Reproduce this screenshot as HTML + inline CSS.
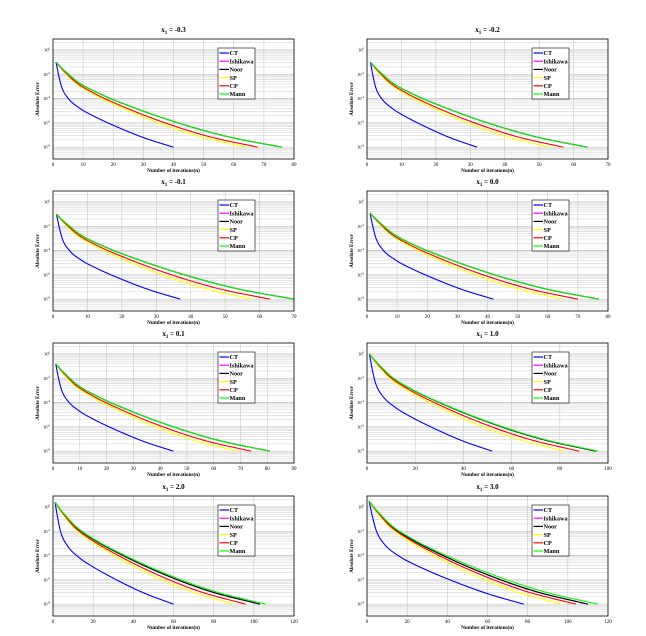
<!DOCTYPE html>
<html><head><meta charset="utf-8"><style>
html,body{margin:0;padding:0;background:#fff;}
svg{display:block;font-family:"Liberation Serif",serif;}
</style></head><body>
<svg id="fig" width="646" height="636" viewBox="0 0 646 636"></svg>
<script>
const NS="http://www.w3.org/2000/svg";
// ---- data ----
const titles=["-0.3","-0.2","-0.1","0.0","0.1","1.0","2.0","3.0"];
const xMaxes=[80,70,70,80,90,100,120,120];
const seriesNames=["CT","Ishikawa","Noor","SP","CP","Mann"];
const seriesColors=["#0000ff","#ff00ff","#000000","#ffff00","#ff0000","#00ff00"];
// final iteration for each series (CT, Ishikawa, Noor, SP, CP, Mann)
const ends1=[40,76,76,64,68,76];
const ends2=[32,64,64,53,57,64];
const ends3=[37,70,70,58,63,70];
const ends4=[42,77,77,65,70,77];
const ends5=[45,81,81,69,74,81];
const ends6=[52,95,95,82,88,96];
const ends7=[60,103,103,90,96,106];
const ends8=[78,110,110,97,104,115];
const allEnds=[ends1,ends2,ends3,ends4,ends5,ends6,ends7,ends8];
// starting error (in tick units below 10^0) at n=1
const startVals=[0.5,0.5,0.5,0.45,0.4,0.0,-0.2,-0.25];
const endVal=4;
// decay profile: fraction of progress vs. fraction descended
const profFrac=[0,0.025,0.05,0.1,0.2,0.3,0.5,0.75,1];
const ctProfile=[0,0.17,0.3,0.42,0.54,0.62,0.75,0.89,1];
const otherProfile=[0,0.07,0.13,0.24,0.38,0.49,0.68,0.87,1];
const yTickLabels=["0","-2","-4","-6","-8"];
// ---- layout ----
const colLeft=[53,367], rowTop=[39,191,343,496], W=241, H=120;
const svg=document.getElementById('fig');
function el(t,a,p){const e=document.createElementNS(NS,t);for(const k in a)e.setAttribute(k,a[k]);(p||svg).appendChild(e);return e;}
function monotone(xs,ys){const n=xs.length,d=[],m=[];
 for(let i=0;i<n-1;i++)d.push((ys[i+1]-ys[i])/(xs[i+1]-xs[i]));
 m[0]=d[0];m[n-1]=d[n-2];
 for(let i=1;i<n-1;i++){m[i]=(d[i-1]*d[i]<=0)?0:(d[i-1]+d[i])/2;}
 for(let i=0;i<n-1;i++){if(d[i]===0){m[i]=0;m[i+1]=0;continue;}
  const a=m[i]/d[i],b=m[i+1]/d[i],s=a*a+b*b;if(s>9){const t=3/Math.sqrt(s);m[i]=t*a*d[i];m[i+1]=t*b*d[i];}}
 return x=>{let i=0;while(i<n-2&&x>xs[i+1])i++;const h=xs[i+1]-xs[i],t=(x-xs[i])/h,t2=t*t,t3=t2*t;
  return (2*t3-3*t2+1)*ys[i]+(t3-2*t2+t)*h*m[i]+(-2*t3+3*t2)*ys[i+1]+(t3-t2)*h*m[i+1];};}
const ctFn=monotone(profFrac,ctProfile), otherFn=monotone(profFrac,otherProfile);
for(let p=0;p<8;p++){
 const L=colLeft[p%2],T=rowTop[Math.floor(p/2)],xMax=xMaxes[p];
 const g=el('g',{});
 
 
 const xs=v=>L+v/xMax*W;
 const ys=v=>T+11+v*24.3;
 el('rect',{x:L,y:T,width:W,height:H,fill:'#fff'},g);
 for(let u=-1;u<5;u++){for(let k=2;k<10;k++){const y=ys(u+1-Math.log10(k));if(y>T&&y<T+H)el('line',{x1:L,x2:L+W,y1:y,y2:y,stroke:'#d8d8d8','stroke-width':0.6},g);}}
 const step=xMax<=90?10:20;
 for(let v=0;v<=xMax;v+=step){const x=xs(v);
  el('line',{x1:x,x2:x,y1:T,y2:T+H,stroke:'#c8c8c8','stroke-width':0.6},g);
  const t=el('text',{x:x,y:T+H+7,'font-size':5,'text-anchor':'middle',fill:'#000'},g);t.textContent=v;
  }
 for(let i=0;i<yTickLabels.length;i++){const y=ys(i*1);
  el('line',{x1:L,x2:L+W,y1:y,y2:y,stroke:'#c0c0c0','stroke-width':0.7},g);
  const t=el('text',{x:L-3,y:y+1.5,'font-size':4.5,'text-anchor':'end'},g);
  t.innerHTML='10<tspan dy="-2" font-size="3">'+yTickLabels[i]+'</tspan>';
  }
 const ends=allEnds[p];
 for(let s=0;s<6;s++){const N=ends[s],fn=s===0?ctFn:otherFn,v0=startVals[p];
  const pts=[];
  for(let j=0;j<=200;j++){const f=Math.pow(j/200,1.6);pts.push(xs(1+f*(N-1)).toFixed(2)+","+ys(v0+fn(f)*(endVal-v0)).toFixed(2));}
  const path=el('polyline',{points:pts.join(" "),fill:'none',stroke:seriesColors[s],'stroke-width':1.1,'stroke-linejoin':'round'},g);
  
  }
 el('rect',{x:L,y:T,width:W,height:H,fill:'none',stroke:'#000','stroke-width':0.8},g);
 const tt=el('text',{x:L+W/2,y:T-7,'font-size':7,'font-weight':'bold','text-anchor':'middle'},g);
 tt.innerHTML='x<tspan dy="2" font-size="5">1</tspan><tspan dy="-2"> = '+titles[p]+'</tspan>';
 
 const xl=el('text',{x:L+W/2,y:T+H+13,'font-size':5.2,'font-weight':'bold','text-anchor':'middle'},g);
 xl.textContent='Number of iterations(n)';
 
 const yl=el('text',{x:0,y:0,'font-size':5.2,'font-weight':'bold','text-anchor':'middle',transform:'translate('+(L-14)+','+(T+H/2)+') rotate(-90)'},g);
 yl.textContent='Absolute Error';
 
 const lg=el('g',{},g);
 
 const lx=L+165,ly=T+9;
 el('rect',{x:lx,y:ly,width:37,height:51,fill:'#fff',stroke:'#000','stroke-width':0.6},lg);
 for(let s=0;s<6;s++){const y=ly+5+s*8.2;
  el('line',{x1:lx+1.5,x2:lx+11,y1:y,y2:y,stroke:seriesColors[s],'stroke-width':1.2},lg);
  const t=el('text',{x:lx+11.5,y:y+2.2,'font-size':6.2,'font-weight':'bold'},lg);t.textContent=seriesNames[s];
  }
}
</script>
</body></html>
